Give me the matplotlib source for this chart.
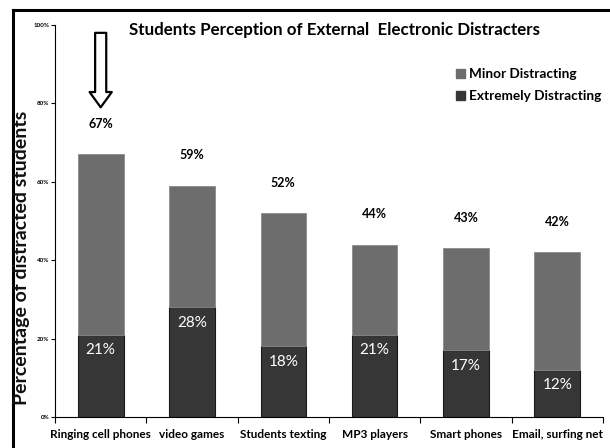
import matplotlib
matplotlib.use('Agg')
import matplotlib.pyplot as plt
from matplotlib.patches import Patch
import numpy as np

# data
categories = ['Ringing cell phones', 'video games', 'Students texting',
              'MP3 players', 'Smart phones', 'Email, surfing net']
total = [67, 59, 52, 44, 43, 42]
extremely = [21, 28, 18, 21, 17, 12]
minor = [t - e for t, e in zip(total, extremely)]

c_minor = '#6d6d6d'
c_extreme = '#363636'
font = ['Lato', 'DejaVu Sans']
plt.rcParams['font.family'] = font

fig = plt.figure(figsize=(6.1, 4.48), dpi=100)
ax = fig.add_axes([0.0902, 0.0692, 0.8983, 0.8750])

x = np.arange(len(categories))
ax.bar(x, extremely, width=0.5, color=c_extreme, edgecolor='#1a1a1a', linewidth=0.8)
ax.bar(x, minor, width=0.5, bottom=extremely, color=c_minor, edgecolor='#8a8a8a', linewidth=0.6)

# labels
for i in range(len(categories)):
    ax.annotate(f'{total[i]}%', (x[i], total[i]), xytext=(0, 22), textcoords='offset points',
                ha='center', va='center', fontsize=9, fontweight='bold')
    ax.annotate(f'{extremely[i]}%', (x[i], extremely[i]), xytext=(0, -11), textcoords='offset points',
                ha='center', va='center', fontsize=11, color='white')

# hollow arrow over first bar
ax.annotate('', xy=(x[0], 79), xytext=(x[0], 98),
            arrowprops=dict(arrowstyle='simple,head_width=1.6,head_length=1.1,tail_width=0.8',
                            facecolor='white', edgecolor='black', linewidth=1.6,
                            shrinkA=0, shrinkB=0))

ax.set_xlim(-0.5, len(categories) - 0.5)
ax.set_ylim(0, 100)
ax.set_yticks(np.arange(0, 101, 20))
ax.set_yticklabels([f'{v}%' for v in range(0, 101, 20)], fontsize=4.5, fontweight='bold')
ax.set_xticks(x)
ax.set_xticklabels(categories, fontsize=8.5, fontweight='bold')
ax.set_xticks(np.arange(-0.5, len(categories)), minor=True)
ax.tick_params(axis='x', which='major', length=0, pad=9)
ax.tick_params(axis='x', which='minor', length=4, width=0.8)
ax.tick_params(axis='y', length=3, width=0.8, pad=1)
for s in ['top', 'right']:
    ax.spines[s].set_visible(False)
for s in ['left', 'bottom']:
    ax.spines[s].set_linewidth(0.8)

# y label
fig.text(0.0345, 0.425, 'Percentage of distracted students', rotation=90,
         ha='center', va='center', fontsize=14, fontweight='bold', color='#111111')

fig.text(0.549, 0.933, 'Students Perception of External  Electronic Distracters',
         ha='center', va='center', fontsize=12.2, fontweight='bold')

# legend
handles = [Patch(color=c_minor, label='Minor Distracting'),
           Patch(color=c_extreme, label='Extremely Distracting')]
leg = fig.legend(handles=handles, loc='upper left', bbox_to_anchor=(0.728, 0.875),
                 frameon=False, prop={'family': font, 'weight': 'bold', 'size': 9.8},
                 handlelength=0.65, handleheight=0.65, handletextpad=0.25, labelspacing=0.75)

# border lines (left and top of the frame)
fig.add_artist(plt.Line2D([0.0205, 0.0205], [0, 0.978], color='black', linewidth=2.2))
fig.add_artist(plt.Line2D([0.0205, 1.0], [0.977, 0.977], color='black', linewidth=2.2))

fig.savefig('out.png', dpi=100)
